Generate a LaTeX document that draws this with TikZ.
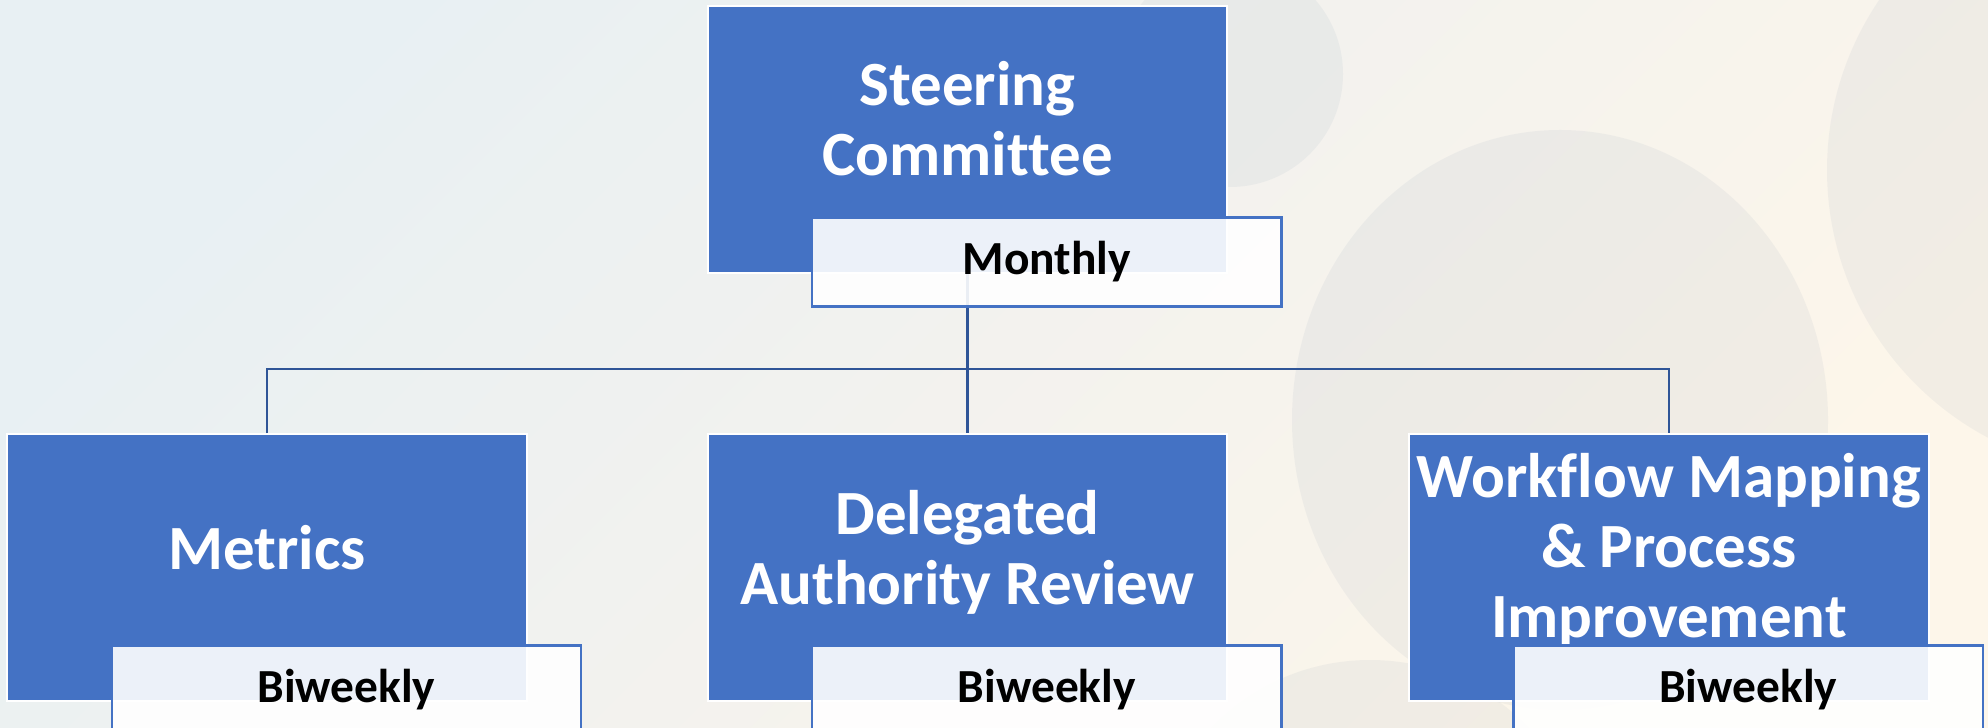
\documentclass[tikz,border=0pt]{standalone}
\usepackage{fontspec}
\setmainfont{Carlito}[Ligatures=NoCommon]
\usepackage{xcolor}
\usetikzlibrary{positioning}
\definecolor{boxblue}{HTML}{4472C4}
\definecolor{linkblue}{HTML}{2F5597}
\definecolor{bgleft}{HTML}{E8F0F3}
\definecolor{bgmid}{HTML}{F3F2EE}
\definecolor{bgright}{HTML}{FDF6EA}
\definecolor{blobtint}{RGB}{115,140,170}
\tikzset{
	groupbox/.style={fill=boxblue, draw=white, line width=0.02cm, minimum width=5.19cm, minimum height=2.67cm, inner sep=0pt},
	grouptext/.style={text=white, font=\fontsize{17.9}{19.9}\selectfont\bfseries, align=center, inner sep=0pt},
	freqbox/.style={fill=white, fill opacity=0.9, text opacity=1, draw=boxblue, line width=0.025cm, minimum width=4.69cm, minimum height=0.89cm, inner sep=0pt, text=black, font=\fontsize{13.5}{16}\selectfont\bfseries, anchor=north west},
	link/.style={draw=linkblue, line width=0.025cm},
	blob/.style={fill=blobtint, fill opacity=0.08, draw=none}
}

\begin{document}
\begin{tikzpicture}[x=0.01cm, y=-0.01cm]
			\useasboundingbox (0,0) rectangle (1988,728);
			\shade[top color=bgleft, bottom color=bgright, middle color=bgmid, shading angle=45] (0,0) rectangle (1988,728);
			\begin{scope}
				\clip (0,0) rectangle (1988,728);
				\fill[blob] (1230,74) circle[radius=113];
				\fill[blob] (1560,420) ellipse[x radius=268, y radius=290];
				\fill[blob] (1370,880) circle[radius=220];
				\fill[blob] (2130,170) circle[radius=303];
			\end{scope}
			\node[groupbox] (steer) at (967.5,139.5) {};
			\node[groupbox, below=1.59cm of steer] (delegated) {};
			\node[groupbox, left=1.79cm of delegated] (metrics) {};
			\node[groupbox, right=1.80cm of delegated] (workflow) {};
			\node[grouptext] (steertext) at ([yshift=-1.14cm]steer.north) {Steering\\Committee};
			\node[grouptext] (metricstext) at ([yshift=-1.14cm]metrics.north) {Metrics};
			\node[grouptext] (delegatedtext) at ([yshift=-1.19cm]delegated.north) {Delegated\\Authority Review};
			\node[grouptext] (workflowtext) at ([yshift=-1.17cm]workflow.north) {Workflow Mapping\\\& Process\\Improvement};
			\coordinate[below=0.95cm of steer] (bar);
			\draw[link] (steer.south) -- (delegated.north);
			\draw[link] (metrics.north) -- (metrics.north |- bar) -- (workflow.north |- bar) -- (workflow.north);
			\node[freqbox] (monthly) at ([xshift=1.04cm,yshift=0.58cm]steer.south west) {Monthly};
			\node[freqbox] (metricsfreq) at ([xshift=1.04cm,yshift=0.58cm]metrics.south west) {Biweekly};
			\node[freqbox] (delegatedfreq) at ([xshift=1.04cm,yshift=0.58cm]delegated.south west) {Biweekly};
			\node[freqbox] (workflowfreq) at ([xshift=1.04cm,yshift=0.58cm]workflow.south west) {Biweekly};
		\end{tikzpicture}
\end{document}
